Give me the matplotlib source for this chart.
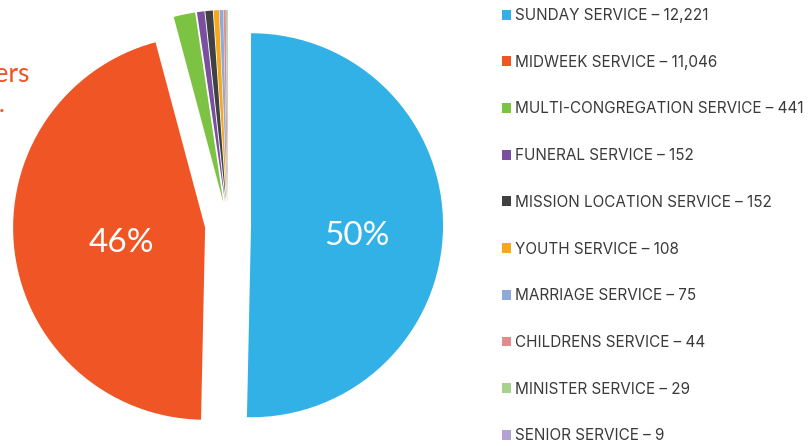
import numpy as np
import matplotlib
matplotlib.use("Agg")
import matplotlib.pyplot as plt
from matplotlib.patches import Rectangle

# service attendance counts
services = ["SUNDAY SERVICE", "MIDWEEK SERVICE", "MULTI-CONGREGATION SERVICE",
            "FUNERAL SERVICE", "MISSION LOCATION SERVICE", "YOUTH SERVICE",
            "MARRIAGE SERVICE", "CHILDRENS SERVICE", "MINISTER SERVICE",
            "SENIOR SERVICE"]
counts = [12221, 11046, 441, 152, 152, 108, 75, 44, 29, 9]
colors = ["#31B1E6", "#F05525", "#7CC243", "#7A4F9E", "#3F4143", "#F5A81C",
          "#8EAADB", "#DE8C8C", "#A8D18D", "#B3A3D3"]

W, H = 809, 446
fig = plt.figure(figsize=(W / 100, H / 100), dpi=100)
ax = fig.add_axes([0, 0, 1, 1])

R = 192            # pie radius in pixels
cx, cy = 228, 221  # pie centre in pixels (y from bottom)


def pct_label(p):
    if p < 10:
        return ""
    return "%d%%" % round(round(p, 1))


wedges, texts, autotexts = ax.pie(
    counts, colors=colors, startangle=90, counterclock=False,
    explode=[0.12] * len(counts), autopct=pct_label, pctdistance=0.5,
    wedgeprops=dict(linewidth=0),
    textprops=dict(color="white", fontsize=24, family="Lato"))

# nudge the two big percentage labels
label_dist = [0.55, 0.44]
label_drop = [10, 5]
for w, t, d, dy in zip(wedges, autotexts, label_dist, label_drop):
    a = np.deg2rad((w.theta1 + w.theta2) / 2)
    x0, y0 = w.center
    t.set_position((x0 + d * np.cos(a), y0 + d * np.sin(a) - dy / R))

ax.set_xlim(-cx / R, (W - cx) / R)
ax.set_ylim(-cy / R, (H - cy) / R)
ax.set_aspect("auto")
ax.axis("off")

# cropped heading on the left
fig.text(30 / W, 1 - 82 / H, "Numbers", ha="right", va="baseline",
         color="#F05525", fontsize=19, family="Lato")
fig.text(5 / W, 1 - 112 / H, "total.", ha="right", va="baseline",
         color="#F05525", fontsize=19, family="Lato")

handles = [Rectangle((0, 0), 1, 1, facecolor=c) for c in colors]
labels = ["%s \u2013 %s" % (s, format(c, ",")) for s, c in zip(services, counts)]
fig.legend(handles, labels, loc="upper left", bbox_to_anchor=(502 / W, 1 - 8 / H),
           frameon=False, handlelength=0.62, handleheight=0.62, handletextpad=0.2,
           labelspacing=2.075, borderpad=0, borderaxespad=0,
           prop=dict(family="Inter", size=11), labelcolor="#3a3a3a")

fig.savefig("out.png", dpi=100)
